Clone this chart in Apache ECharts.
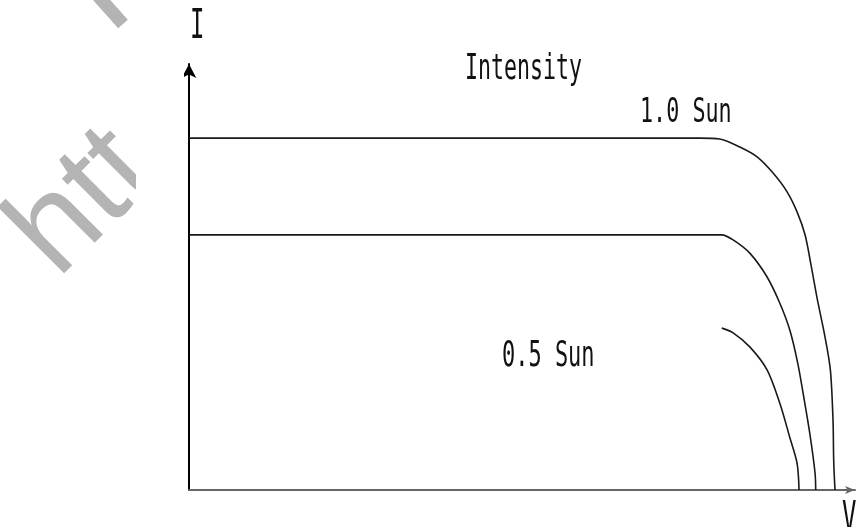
<!DOCTYPE html>
<html>
<head>
<meta charset="utf-8">
<script src="https://cdn.jsdelivr.net/npm/echarts@6/dist/echarts.min.js"></script>
<style>html,body{margin:0;padding:0;background:#fff}#c{width:859px;height:527px}</style>
</head>
<body>
<div id="c"></div>
<script>
// Data (V in % of axis length, I in % of axis height)
var v_sun10 = [0, 76.7, 79.7, 82.7, 85.3, 87.7, 89.8, 91.3, 92.5, 93.4, 94.3, 95.5, 96.3, 96.7, 96.8, 97.0];
var i_sun10 = [82.6, 82.6, 82.4, 80.5, 78.2, 74.4, 70.0, 65.3, 59.9, 52.8, 45.1, 35.9, 28.2, 16.4, 7.0, 0];
var v_mid = [0, 80.0, 81.7, 84.2, 86.8, 88.7, 90.2, 91.4, 92.2, 93.2, 94.0, 94.1];
var i_mid = [59.9, 59.9, 58.7, 55.6, 50.0, 43.9, 37.6, 29.8, 22.8, 13.4, 4.0, 0];
var v_sun05 = [80.0, 81.7, 84.2, 86.8, 88.7, 90.2, 91.3, 91.6];
var i_sun05 = [38.0, 36.9, 33.6, 28.2, 20.4, 12.4, 6.3, 0];
var labels = ['Intensity', '1.0 Sun', '0.5 Sun', 'I', 'V'];

function zip(a, b) { return a.map(function (x, k) { return [x, b[k]]; }); }

var chart = echarts.init(document.getElementById('c'), null, {renderer: 'canvas'});
var mono = '"DejaVu Sans Mono", monospace';
function txt(s, x, y, size, sx) {
  return {type: 'text', x: x, y: y, scaleX: sx, z: 10,
    style: {text: s, x: 0, y: 0, fontFamily: mono, fontSize: size, fill: '#111', align: 'left', verticalAlign: 'top'}};
}
var lineStyle = {color: '#1a1a1a', width: 1.6};
chart.setOption({
  animation: false,
  backgroundColor: '#fff',
  grid: {left: 189, right: 4, top: 64, bottom: 37},
  xAxis: {type: 'value', min: 0, max: 100, splitLine: {show: false}, axisTick: {show: false}, axisLabel: {show: false},
    axisLine: {lineStyle: {color: '#666', width: 2}, symbol: ['none', 'arrow'], symbolSize: [6, 10]}},
  yAxis: {type: 'value', min: 0, max: 100, splitLine: {show: false}, axisTick: {show: false}, axisLabel: {show: false},
    axisLine: {lineStyle: {color: '#000', width: 2}, symbol: ['none', 'arrow'], symbolSize: [11, 14]}},
  series: [
    {type: 'line', data: zip(v_sun10, i_sun10), smooth: 0.3, showSymbol: false, lineStyle: lineStyle},
    {type: 'line', data: zip(v_mid, i_mid), smooth: 0.3, showSymbol: false, lineStyle: lineStyle},
    {type: 'line', data: zip(v_sun05, i_sun05), smooth: 0.3, showSymbol: false, lineStyle: lineStyle}
  ],
  graphic: [
    {type: 'text', x: 60, y: 282, rotation: Math.PI / 4, z: 0,
      style: {text: 'htt', x: 0, y: 26, fontFamily: 'Liberation Sans, Arial, sans-serif', fontSize: 130, fill: '#b4b4b4', align: 'left', verticalAlign: 'bottom'}},
    {type: 'line', z: 0, shape: {x1: 98, y1: -4, x2: 123, y2: 24}, style: {stroke: '#b4b4b4', lineWidth: 13}},
    {type: 'rect', z: 1, shape: {x: 136, y: 0, width: 48, height: 320}, style: {fill: '#fff'}},
    txt(labels[0], 465, 52, 36, 0.6),
    txt(labels[1], 640, 96, 34, 0.64),
    txt(labels[2], 502, 339, 36, 0.61),
    txt(labels[3], 190, 8, 40, 0.6),
    txt(labels[4], 842, 500, 40, 0.6)
  ]
});
</script>
</body>
</html>
